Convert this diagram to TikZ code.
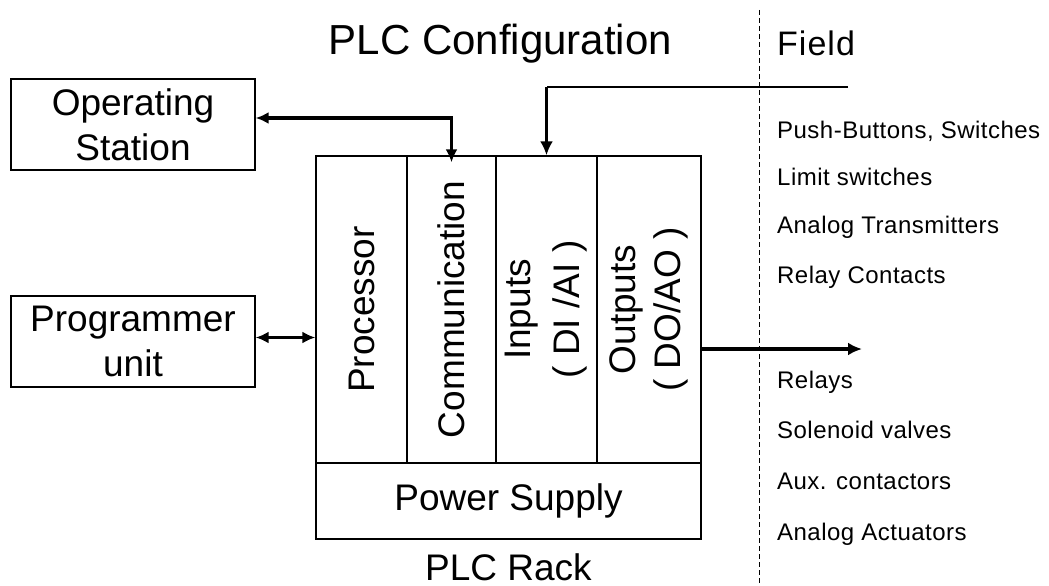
\documentclass[tikz,border=0pt]{standalone}
\usepackage{fontspec}
\setmainfont{Liberation Sans}
\usetikzlibrary{arrows.meta}
\begin{document}
\begin{tikzpicture}[x=1pt,y=-1pt,
  boxline/.style={draw, line width=1.3pt, inner sep=0pt},
  bigtxt/.style={font=\fontsize{37}{45}\selectfont},
  fieldtxt/.style={font=\fontsize{24}{28}\selectfont\addfontfeatures{LetterSpace=2}, anchor=base west, inner sep=0pt},
  conn/.style={line width=3.6pt, -{Latex[length=14pt,width=13pt]}},
  biconn/.style={line width=3.2pt, {Latex[length=13pt,width=12pt]}-{Latex[length=13pt,width=12pt]}}
]
\useasboundingbox (0,0) rectangle (1049,586);
\fill[white] (0,0) rectangle (1049,586);

% title and field heading
\node[font=\fontsize{42}{50}\selectfont, anchor=base, inner sep=0pt] (title) at (500.5,55) {PLC Configuration};
\node[font=\fontsize{34}{40}\selectfont\addfontfeatures{LetterSpace=3}, anchor=base west, inner sep=0pt] (field) at (777,56) {Field};

% left boxes
\node[boxline, minimum width=244pt, minimum height=91pt, bigtxt, align=center] (os) at (133,124.5) {Operating\\Station};
\node[boxline, minimum width=244pt, minimum height=91pt, bigtxt, align=center] (prog) at (133,341.5) {Programmer\\unit};

% rack slots (rotated nodes: north = left side, south = right side, east = top)
\node[boxline, minimum width=307pt, minimum height=91pt, rotate=90, bigtxt, align=center] (proc) at (361.5,309.5) {Processor};
\node[boxline, minimum width=307pt, minimum height=89pt, rotate=90, bigtxt, align=center] (comm) at (451.5,309.5) {Communication};
\node[boxline, minimum width=307pt, minimum height=101pt, rotate=90, align=center, font=\fontsize{37}{49}\selectfont] (inp) at (546.5,309.5) {Inputs\\( DI /AI )};
\node[boxline, minimum width=307pt, minimum height=104pt, rotate=90, align=center, font=\fontsize{37}{45}\selectfont] (outp) at (649,309.5) {Outputs\\( DO/AO )};
\node[boxline, minimum width=385pt, minimum height=76pt, bigtxt] (power) at (508.5,501) {Power Supply};
\node[bigtxt, anchor=base, inner sep=0pt] (rack) at (508.5,580) {PLC Rack};

% dashed separator
\coordinate (dtop) at (759,10);
\coordinate (dbot) at (759,586);
\draw[line width=1pt, dash pattern=on 5pt off 3pt] (dtop) -- (dbot);

% field texts
\node[fieldtxt] (f1) at (777,138) {Push-Buttons, Switches};
\node[fieldtxt] (f2) at (777,185) {Limit switches};
\node[fieldtxt] (f3) at (777,233) {Analog Transmitters};
\node[fieldtxt] (f4) at (777,283) {Relay Contacts};
\node[fieldtxt] (g1) at (777,388) {Relays};
\node[fieldtxt] (g2) at (777,438) {Solenoid valves};
\node[fieldtxt] (g3) at (777,489) {Aux. contactors};
\node[fieldtxt] (g4) at (777,540) {Analog Actuators};

% connectors
\draw[biconn] ([yshift=6.5pt]os.east) -| ([yshift=-7pt]comm.east);
\draw[biconn] ([yshift=4pt]prog.east) -- ([yshift=4pt]prog.east -| proc.north);
\coordinate (fin) at (848,87);
\draw[line width=1.6pt] (fin) -- (fin -| inp.east);
\draw[conn] (fin -| inp.east) -- (inp.east);
\coordinate (fout) at (862,349);
\draw[conn] (fout -| outp.south) -- (fout);
\end{tikzpicture}
\end{document}
